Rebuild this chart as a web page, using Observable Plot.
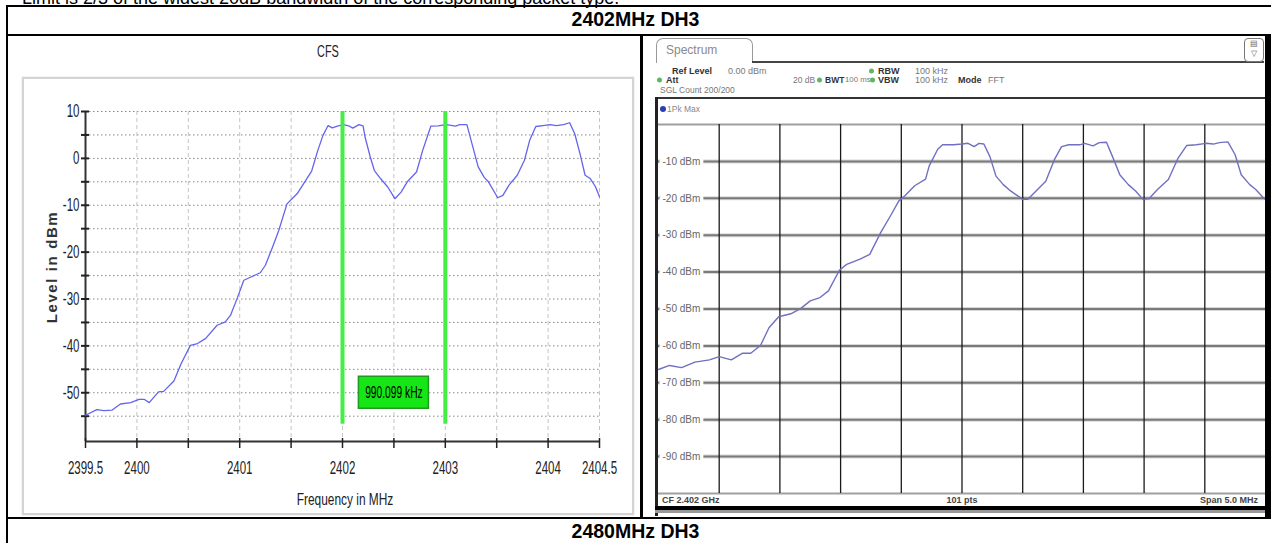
<!DOCTYPE html>
<html><head><meta charset="utf-8">
<script src="https://cdn.jsdelivr.net/npm/d3@7"></script>
<script src="https://cdn.jsdelivr.net/npm/@observablehq/plot@0.6"></script>
<style>
html,body{margin:0;padding:0;background:#fff}
body{width:1271px;height:543px;overflow:hidden;position:relative;font-family:Arial,"Liberation Sans",sans-serif}
.a{position:absolute;white-space:nowrap;line-height:1}
.bl{position:absolute;background:#000}
.narrow{font-family:"Liberation Sans",Arial,sans-serif}
.cy{transform:translateY(-50%)}
.rs{font-family:"Liberation Sans",Arial,sans-serif;font-size:8.5px;color:#777}
.rs b{color:#333}
.dot{position:absolute;width:5px;height:5px;border-radius:50%;background:#62b662;transform:translateY(-50%)}
</style></head><body>

<div class="a" style="left:22px;top:-11px;font-size:18px;color:#000">Limit is 2/3 of the widest 20dB bandwidth of the corresponding packet type.</div>

<!-- table lines -->
<div class="bl" style="left:6px;top:5px;width:1265px;height:2px"></div>
<div class="bl" style="left:6px;top:5px;width:2px;height:538px"></div>
<div class="bl" style="left:6px;top:34px;width:1265px;height:2px"></div>
<div class="bl" style="left:640px;top:34px;width:3px;height:485px"></div>
<div class="bl" style="left:6px;top:517px;width:1265px;height:2px"></div>
<div class="a cy" style="left:0;width:1271px;text-align:center;top:20px;font-size:19.5px;font-weight:bold">2402MHz DH3</div>
<div class="a cy" style="left:0;width:1271px;text-align:center;top:532px;font-size:19.5px;font-weight:bold">2480MHz DH3</div>

<!-- left cell : CFS -->
<div class="a narrow" style="left:0;width:656px;text-align:center;top:51px;font-size:17px;color:#222;transform:translateY(-50%) scaleX(0.64)">CFS</div>
<div class="a" style="left:22px;top:77px;width:608px;height:434px;border:2px solid #d4d4d4;box-shadow:0 0 1px #bbb"></div>
<div id="cfs" class="a" style="left:24px;top:78px;width:608px;height:434px"></div>
<div class="a narrow" style="left:0;width:690px;text-align:center;top:499px;font-size:17px;color:#222;transform:translateY(-50%) scaleX(0.7)">Frequency in MHz</div>
<div class="a" style="left:51px;top:267px;transform:translate(-50%,-50%) rotate(-90deg);font-size:15px;font-weight:bold;letter-spacing:1.6px;color:#333">Level in dBm</div>

<!-- right cell : spectrum analyzer -->
<div class="a" style="left:656px;top:38px;width:95px;height:24px;border:1px solid #999;border-bottom:none;border-radius:7px 7px 0 0;background:#fff"></div>
<div class="a rs cy" style="left:666px;top:50px;font-size:12px;color:#8a8a8a">Spectrum</div>
<div class="bl" style="left:752px;top:61px;width:512px;height:1.5px;background:#444"></div>
<div class="a" style="left:1244px;top:38px;width:18px;height:22px;border:1px solid #777;border-radius:4px;background:#fff;font-size:8px;color:#666;text-align:center;line-height:10px">&#9636;<br>&#9661;</div>

<div class="a rs cy" style="left:672px;top:71px;font-size:9px"><b>Ref Level</b></div>
<div class="a rs cy" style="left:728px;top:71px;font-size:9px">0.00 dBm</div>
<div class="dot" style="left:869px;top:71px"></div>
<div class="a rs cy" style="left:878px;top:71px;font-size:9px"><b>RBW</b></div>
<div class="a rs cy" style="left:915px;top:71px;font-size:9px">100 kHz</div>
<div class="dot" style="left:657px;top:80px"></div>
<div class="a rs cy" style="left:666px;top:80px;font-size:9px"><b>Att</b></div>
<div class="a rs cy" style="left:793px;top:80px">20 dB</div>
<div class="dot" style="left:817px;top:80px"></div>
<div class="a rs cy" style="left:825px;top:80px"><b>BWT</b></div>
<div class="a rs cy" style="left:845px;top:80px;font-size:7.8px">100 ms</div>
<div class="dot" style="left:870px;top:80px"></div>
<div class="a rs cy" style="left:878px;top:80px;font-size:9px"><b>VBW</b></div>
<div class="a rs cy" style="left:915px;top:80px;font-size:9px">100 kHz</div>
<div class="a rs cy" style="left:958px;top:80px;font-size:9px"><b>Mode</b></div>
<div class="a rs cy" style="left:988px;top:80px;font-size:9px">FFT</div>
<div class="a rs cy" style="left:660px;top:90px">SGL Count 200/200</div>

<div class="bl" style="left:655px;top:97px;width:612px;height:2px;background:#333"></div>
<div class="bl" style="left:655px;top:97px;width:3px;height:419px;background:#222"></div>
<div class="dot" style="left:660px;top:109px;width:6px;height:6px;background:#2a3fb0"></div>
<div class="a rs cy" style="left:667px;top:109px;color:#888">1Pk Max</div>
<div id="spec" class="a" style="left:658px;top:124px;width:607px;height:369px"></div>
<div class="a rs cy" style="left:662px;top:500px;font-weight:bold;color:#444;font-size:9px">CF 2.402 GHz</div>
<div class="a rs cy" style="left:800px;width:324px;text-align:center;top:500px;font-weight:bold;color:#444;font-size:9px">101 pts</div>
<div class="a rs cy" style="left:1000px;width:258px;text-align:right;top:500px;font-weight:bold;color:#444;font-size:9px">Span 5.0 MHz</div>
<div class="bl" style="left:655px;top:506px;width:616px;height:4px"></div>
<div class="bl" style="left:655px;top:510px;width:616px;height:3px;background:#999"></div>
<div class="bl" style="left:1265px;top:35px;width:6px;height:484px"></div>

<script>
// ---------- CFS (left) data ----------
const cfsFreq = [
  2399.50, 2399.61, 2399.68, 2399.76, 2399.84, 2399.94, 2400.02, 2400.07, 2400.12, 2400.21,
  2400.26, 2400.36, 2400.43, 2400.52, 2400.59, 2400.67, 2400.78, 2400.86, 2400.91, 2400.98,
  2401.04, 2401.11, 2401.20, 2401.25, 2401.32, 2401.38, 2401.46, 2401.56, 2401.63, 2401.70,
  2401.76, 2401.81, 2401.86, 2401.90, 2401.95, 2402.01, 2402.06, 2402.10, 2402.16, 2402.20,
  2402.22, 2402.27, 2402.31, 2402.37, 2402.44, 2402.51, 2402.57, 2402.63, 2402.72, 2402.78,
  2402.86, 2402.93, 2403.01, 2403.10, 2403.14, 2403.21, 2403.26, 2403.32, 2403.38, 2403.42,
  2403.51, 2403.56, 2403.62, 2403.70, 2403.77, 2403.82, 2403.88, 2403.95, 2404.02, 2404.08,
  2404.15, 2404.21, 2404.26, 2404.31, 2404.36, 2404.41, 2404.46, 2404.50];
const cfsLevel = [
  -54.8, -53.6, -53.8, -53.7, -52.4, -52.1, -51.4, -51.4, -52.1, -49.8,
  -49.7, -47.5, -43.8, -39.9, -39.5, -38.4, -35.6, -34.9, -33.5, -29.6,
  -26.0, -25.3, -24.4, -22.8, -18.9, -15.4, -9.7, -7.5, -5.1, -2.7,
  1.7, 4.9, 7.0, 6.5, 6.9, 7.2, 6.95, 6.45, 7.2, 6.95,
  4.5, 0.3, -2.6, -4.3, -6.1, -8.6, -7.2, -5.0, -2.9, 1.7,
  6.9, 6.95, 7.2, 6.9, 7.2, 7.2, 3.1, -1.8, -4.1, -5.0,
  -8.4, -7.9, -5.7, -3.6, -0.4, 3.8, 6.8, 7.0, 7.2, 7.0,
  7.2, 7.6, 5.2, 1.0, -3.6, -4.3, -6.0, -8.2];
const cfsXDomain = [2399.5, 2404.5];
const cfsYDomain = [-60.4, 10];
const cfsXTicks = [2399.5, 2400, 2400.5, 2401, 2401.5, 2402, 2402.5, 2403, 2403.5, 2404, 2404.5];
const cfsXGrid = [2400, 2400.5, 2401, 2401.5, 2402, 2402.5, 2403, 2403.5, 2404, 2404.5];
const cfsXLabels = [2399.5, 2400, 2401, 2402, 2403, 2404, 2404.5];
const cfsYTicks = [10, 5, 0, -5, -10, -15, -20, -25, -30, -35, -40, -45, -50, -55];
const cfsYLabels = [10, 0, -10, -20, -30, -40, -50];
const obwMarkers = [2402.0, 2403.0];
const obwMarkerSpan = [10, -56.7];
const obwLabel = [{f: 2402.5, level: -50, text: "990.099 kHz"}];

// ---------- Spectrum analyzer (right) data ----------
const specFreq = [
  2399.50, 2399.59, 2399.69, 2399.80, 2399.92, 2400.00, 2400.10, 2400.19, 2400.26, 2400.34,
  2400.41, 2400.49, 2400.59, 2400.67, 2400.75, 2400.83, 2400.90, 2400.99, 2401.05, 2401.16,
  2401.24, 2401.33, 2401.41, 2401.48, 2401.53, 2401.61, 2401.70, 2401.73, 2401.80, 2401.84,
  2401.93, 2402.00, 2402.05, 2402.10, 2402.14, 2402.18, 2402.23, 2402.28, 2402.34, 2402.40,
  2402.50, 2402.54, 2402.61, 2402.69, 2402.76, 2402.82, 2402.88, 2402.97, 2403.01, 2403.08,
  2403.13, 2403.19, 2403.24, 2403.30, 2403.37, 2403.43, 2403.49, 2403.54, 2403.61, 2403.70,
  2403.78, 2403.85, 2403.93, 2404.01, 2404.07, 2404.12, 2404.19, 2404.25, 2404.30, 2404.37,
  2404.42, 2404.48, 2404.50];
const specLevel = [
  -66.4, -65.3, -65.9, -64.4, -63.8, -62.9, -63.8, -62.0, -62.0, -59.9,
  -55.1, -52.1, -51.3, -49.9, -47.8, -46.9, -45.1, -39.5, -37.9, -36.5,
  -35.2, -29.3, -24.8, -20.7, -19.3, -16.6, -14.8, -11.2, -6.7, -5.5,
  -5.5, -5.3, -5.1, -6.0, -5.1, -5.3, -8.7, -14.0, -16.3, -18.0,
  -20.3, -20.3, -18.0, -15.4, -9.6, -6.0, -5.5, -5.5, -5.1, -5.8,
  -4.9, -4.8, -8.7, -13.6, -16.3, -18.0, -20.3, -20.1, -17.6, -14.9,
  -9.1, -5.7, -5.5, -5.1, -5.3, -4.9, -4.7, -8.2, -13.6, -16.3,
  -17.6, -19.8, -20.3];
const specXDomain = [2399.5, 2404.5];
const specYDomain = [-100, 0];
const specGridX = [2400, 2400.5, 2401, 2401.5, 2402, 2402.5, 2403, 2403.5, 2404];
const specLevels = [-10, -20, -30, -40, -50, -60, -70, -80, -90];
const specBorders = [0, -100];

const cfsData = cfsFreq.map((f, i) => ({f, level: cfsLevel[i]}));
const specData = specFreq.map((f, i) => ({f, level: specLevel[i]}));
const sans = '"Liberation Sans",Arial,sans-serif';
const fmt = d => String(d);

// horizontally condense svg texts (narrow font look of the source software)
function condense(svg, k) {
  svg.querySelectorAll("text").forEach(t => {
    const w = t.getComputedTextLength();
    if (w > 0) {
      t.setAttribute("textLength", (w * k).toFixed(2));
      t.setAttribute("lengthAdjust", "spacingAndGlyphs");
    }
  });
}

const cfs = Plot.plot({
  width: 608, height: 434,
  marginLeft: 61, marginRight: 33, marginTop: 33, marginBottom: 71,
  x: {domain: cfsXDomain},
  y: {domain: cfsYDomain},
  style: {fontFamily: sans, fontSize: "18px", color: "#222", background: "transparent", overflow: "visible"},
  marks: [
    Plot.gridY(cfsYTicks, {stroke: "#8a8a8a", strokeOpacity: 1, strokeWidth: 1, strokeDasharray: "1.5,2.5"}),
    Plot.gridX(cfsXGrid, {stroke: "#c4c4c4", strokeOpacity: 1, strokeWidth: 1, strokeDasharray: "4,3"}),
    Plot.ruleX([cfsXDomain[0]], {stroke: "#333", strokeWidth: 2}),
    Plot.ruleY([cfsYDomain[0]], {stroke: "#333", strokeWidth: 2}),
    Plot.axisY(cfsYTicks, {tickSize: 8, dx: 4, tickFormat: () => "", stroke: "#222", strokeWidth: 2, label: null}),
    Plot.axisY(cfsYLabels, {tickSize: 0, tickPadding: 6, tickFormat: fmt, label: null, fill: "#222"}),
    Plot.axisX(cfsXTicks, {tickSize: 10, dy: -3, tickFormat: () => "", stroke: "#222", strokeWidth: 1.5, label: null}),
    Plot.axisX(cfsXLabels, {tickSize: 0, tickPadding: 20, tickFormat: fmt, label: null, fill: "#222"}),
    Plot.line(cfsData, {x: "f", y: "level", stroke: "#6464ee", strokeWidth: 1.3, curve: "linear"}),
    Plot.ruleX(obwMarkers, {y1: obwMarkerSpan[0], y2: obwMarkerSpan[1], stroke: "#44ee44", strokeWidth: 4}),
    Plot.rect(obwLabel, {x1: "f", x2: "f", y1: "level", y2: "level",
      insetLeft: -35, insetRight: -35, insetTop: -16, insetBottom: -16,
      fill: "#16e616", stroke: "#1f9a1f", strokeWidth: 1.5}),
    Plot.text(obwLabel, {x: "f", y: "level", text: "text", fill: "#000", fontSize: 16, fontFamily: sans})
  ]
});
document.getElementById("cfs").append(cfs);
condense(cfs, 0.64);

const spec = Plot.plot({
  width: 607, height: 369,
  marginLeft: 0, marginRight: 0, marginTop: 0, marginBottom: 0,
  x: {domain: specXDomain, axis: null},
  y: {domain: specYDomain, axis: null},
  style: {background: "#fff", overflow: "visible"},
  marks: [
    Plot.ruleY(specLevels, {stroke: "#d8d8d8", strokeWidth: 4}),
    Plot.ruleY(specLevels, {stroke: "#7a7a7a", strokeWidth: 2}),
    Plot.ruleY(specBorders, {stroke: "#a0a0a0", strokeWidth: 2}),
    Plot.ruleX(specGridX, {stroke: "#1a1a1a", strokeWidth: 1.3}),
    Plot.text(specLevels, {x: specXDomain[0], y: d => d, text: d => `${d} dBm`, textAnchor: "start", dx: 4,
      fill: "#666", stroke: "#fff", strokeWidth: 7, fontSize: 10, fontFamily: sans}),
    Plot.line(specData, {x: "f", y: "level", stroke: "#7070c0", strokeWidth: 1.4})
  ]
});
document.getElementById("spec").append(spec);
</script>
</body></html>
